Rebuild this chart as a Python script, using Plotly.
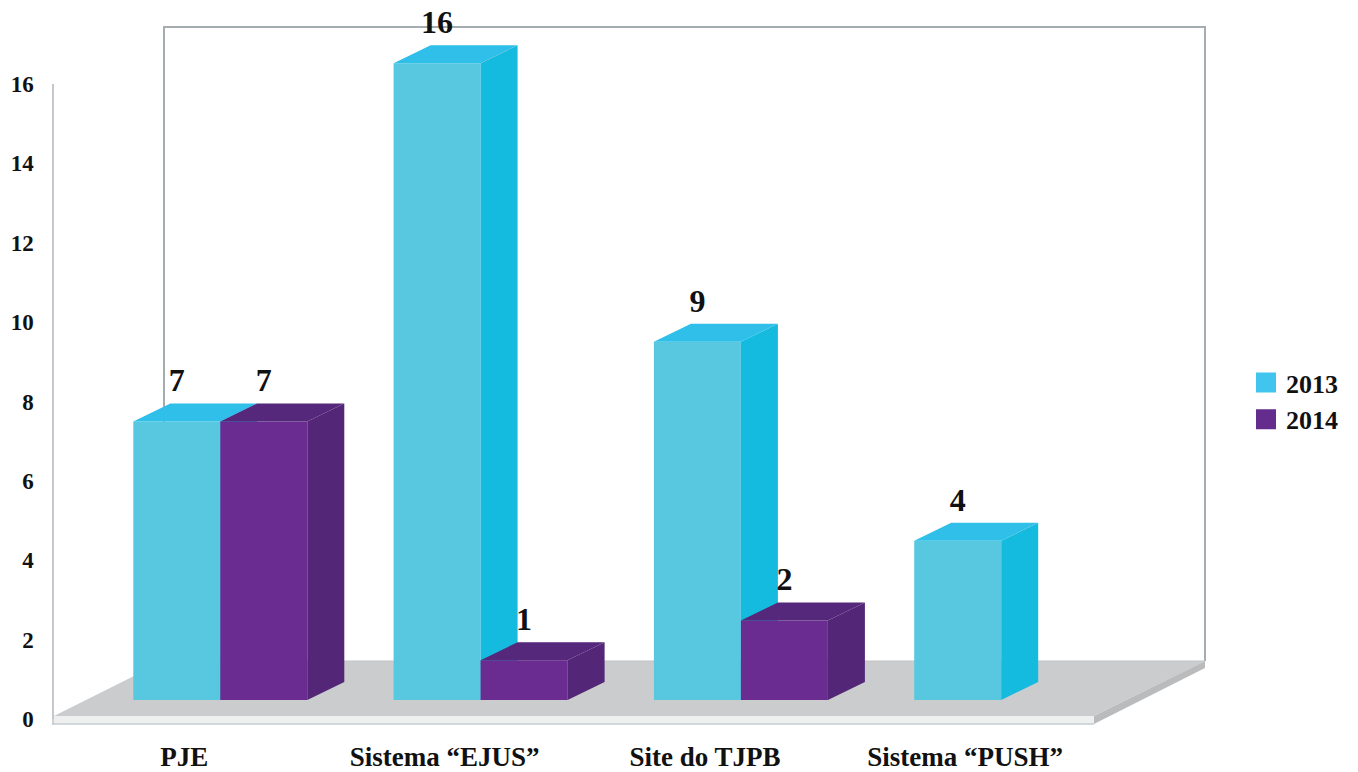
import plotly.graph_objects as go

# ---- data ----
categories = ["PJE", "Sistema “EJUS”", "Site do TJPB", "Sistema “PUSH”"]
series_names = ["2013", "2014"]
values_2013 = [7, 16, 9, 4]
values_2014 = [7, 1, 2, None]
y_ticks = [0, 2, 4, 6, 8, 10, 12, 14, 16]

# ---- styling / geometry ----
W, H = 1358, 772
FONT = "Liberation Serif"
INK = "#111111"
C13 = dict(front="#58C8E0", side="#14BBDF", top="#2FBFE8", legend="#41C5EE")
C14 = dict(front="#6B2C91", side="#532677", top="#55287C", legend="#642C8D")

PX_PER_CAT = 260.3
PX_PER_UNIT = 39.8
X0_PX = 220.3      # boundary between the two bars of the first group
Y0_PX = 700.0      # base of the bars
BAR_W = 87.0 / PX_PER_CAT
DX = 37.0 / PX_PER_CAT
DY = 18.0 / PX_PER_UNIT
LABEL_UP = 38.0 / PX_PER_UNIT

x_range = [-X0_PX / PX_PER_CAT, (W - X0_PX) / PX_PER_CAT]
y_range = [-(H - Y0_PX) / PX_PER_UNIT, Y0_PX / PX_PER_UNIT]
CAT_SHIFT = 36.0 / PX_PER_CAT
x_range_labels = [x_range[0] + CAT_SHIFT, x_range[1] + CAT_SHIFT]


def px(x):
    return x / W


def py(y):
    return 1 - y / H


def poly(points, color):
    d = "M" + "L".join(f"{px(a):.5f},{py(b):.5f}" for a, b in points) + "Z"
    return dict(type="path", path=d, xref="paper", yref="paper", fillcolor=color,
                line=dict(width=0), layer="below")


def wall_line(x0, y0, x1, y1, color="#A6ADB1", width=2):
    return dict(type="line", xref="paper", yref="paper", x0=px(x0), y0=py(y0), x1=px(x1), y1=py(y1),
                line=dict(color=color, width=width), layer="below")


def faces(vals, left, kind):
    xs, ys = [], []
    for i, v in enumerate(vals):
        if v is None:
            continue
        xl = i + left
        xr = xl + BAR_W
        if kind == "side":
            xs += [xr, xr, xr + DX, xr + DX, xr, None]
            ys += [0, v, v + DY, DY, 0, None]
        else:
            xs += [xl, xr, xr + DX, xl + DX, xl, None]
            ys += [v, v, v + DY, v + DY, v, None]
    return xs, ys


fig = go.Figure()


def add_series(name, vals, left, col, xa, ya):
    idx = [i for i, v in enumerate(vals) if v is not None]
    shown = [vals[i] for i in idx]
    fig.add_trace(go.Bar(x=idx, y=shown, width=BAR_W, offset=left, base=0, marker=dict(color=col["front"], line=dict(width=0)),
                         name=name, showlegend=False, hoverinfo="skip", xaxis=xa, yaxis=ya))
    for kind in ("side", "top"):
        xs, ys = faces(vals, left, kind)
        fig.add_trace(go.Scatter(x=xs, y=ys, mode="lines", fill="toself", fillcolor=col[kind],
                                 line=dict(width=0), showlegend=False, hoverinfo="skip", xaxis=xa, yaxis=ya))
    fig.add_trace(go.Scatter(x=[i + left + BAR_W / 2 for i in idx], y=[v + LABEL_UP for v in shown],
                             mode="text", text=[str(v) for v in shown], textposition="middle center",
                             textfont=dict(family=FONT, size=32, color=INK, weight="bold"),
                             showlegend=False, hoverinfo="skip", cliponaxis=False, xaxis=xa, yaxis=ya))


add_series(series_names[0], values_2013, -BAR_W, C13, "x", "y")
add_series(series_names[1], values_2014, 0, C14, "x2", "y2")

# legend entries, carried by the display axes
for nm, col in zip(series_names, (C13, C14)):
    fig.add_trace(go.Scatter(x=[None], y=[None], mode="markers", name=nm, legendgroup=nm,
                             marker=dict(symbol="square", size=16, color=col["legend"],
                                         line=dict(color=col["legend"], width=4)),
                             xaxis="x3", yaxis="y3"))

shapes = [
    poly([(54, 716), (164, 661), (1205, 661), (1094, 716)], "#CBCCCE"),
    poly([(52, 716), (1094, 716), (1094, 724), (52, 724)], "#EEEFEF"),
    poly([(1094, 716), (1205, 661), (1205, 668), (1094, 724)], "#B9BBBD"),
    wall_line(52, 724, 1094, 724, "#C6CDD3", 1.5),
    wall_line(164, 27, 164, 661),
    wall_line(163, 27, 1206, 27),
    wall_line(1205, 27, 1205, 661),
    wall_line(164, 661, 1205, 661, "#C2C3C5", 1),
    wall_line(53, 716, 53, 725, "#C4C8CC", 1.5),
]

hidden = dict(visible=False, fixedrange=True, automargin=False)
fig.update_layout(
    width=W, height=H,
    margin=dict(l=0, r=0, t=0, b=0),
    paper_bgcolor="white", plot_bgcolor="rgba(0,0,0,0)",
    barmode="overlay",
    shapes=shapes,
    showlegend=True,
    legend=dict(x=1246 / W, xanchor="left", y=py(359), yanchor="top", itemwidth=30, tracegroupgap=23,
                font=dict(family=FONT, size=26, color=INK, weight="bold"),
                bgcolor="rgba(0,0,0,0)", traceorder="normal"),
    xaxis=dict(range=x_range, domain=[0, 1], **hidden),
    yaxis=dict(range=y_range, domain=[0, 1], **hidden),
    xaxis2=dict(range=x_range, domain=[0, 1], overlaying="x", **hidden),
    yaxis2=dict(range=y_range, domain=[0, 1], overlaying="y", **hidden),
    xaxis3=dict(range=x_range_labels, domain=[0, 1], anchor="free", position=py(724), automargin=False,
                tickmode="array", tickvals=list(range(len(categories))), ticktext=categories,
                ticks="outside", ticklen=9, tickcolor="rgba(0,0,0,0)", showgrid=False, zeroline=False, showline=False,
                tickfont=dict(family=FONT, size=27, color=INK, weight="bold"), fixedrange=True),
    yaxis3=dict(range=[y_ticks[0], y_ticks[-1]], domain=[py(719), py(84)], anchor="free", position=px(53), automargin=False,
                tickmode="array", tickvals=y_ticks, ticktext=[str(t) for t in y_ticks],
                ticks="outside", ticklen=14, tickcolor="rgba(0,0,0,0)", showgrid=False, zeroline=False,
                showline=True, linecolor="#C4C8CC", linewidth=1.5,
                tickfont=dict(family=FONT, size=23, color=INK, weight="bold"), fixedrange=True),
)

fig.write_html("out.html", post_script="document.body.style.margin='0';", config=dict(displayModeBar=False))
